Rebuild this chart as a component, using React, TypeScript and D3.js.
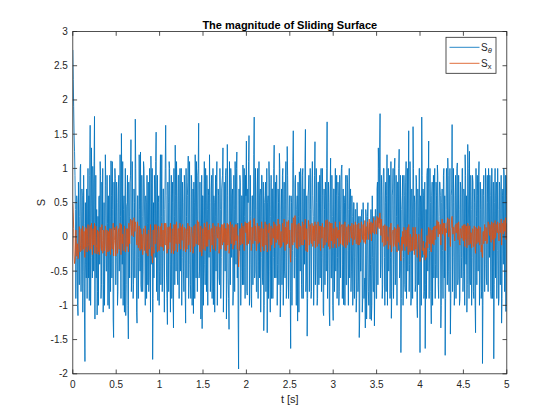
import React from 'react';
import * as d3 from 'd3';

const dt = 0.005;

// S_theta read at t = k*0.01
const sThetaEven = [
  2.73, 1.9, 1.25, 0.4, -0.3, 0.5, -1.15, -0.2, 0.3, 1.06,
  -0.1, 0.6, -0.5, 0.2, -1.82, -0.4, 0.7, 0.1, -0.6, -0.93,
  1.63, -0.3, 0.45, 1.03, -0.5, 1.76, 0.2, -0.6, -1.14, 0.3,
  0.58, -0.4, 0.9, -0.7, 0.1, -1.1, 0.5, -0.2, 0.75, -0.5,
  0.2, 0.6, -1.05, 0.3, 1.11, -0.6, 0.4, -1.47, 0.1, 0.85,
  -0.3, 0.5, -0.8, 0.9, -0.2, 0.3, 1.51, -0.4, -1.0, 0.6,
  0.2, -1.15, 0.45, 0.9, -1.49, 0.3, 0.8, 1.42, -0.5, 0.2,
  -0.7, 0.5, 1.72, 0.1, -1.26, 0.6, -0.3, 0.4, 1.24, -0.8,
  0.3, -0.5, 1.0, -0.2, 0.6, -0.9, 0.2, 0.8, -0.6, 0.1,
  1.18, -0.4, -1.79, 0.5, 0.9, -0.3, 1.53, 0.2, -0.93, 0.6,
  -0.5, 1.2, 0.3, -0.8, 0.7, -0.2, 0.4, 1.63, -0.6, -1.28,
  0.5, 1.1, -0.4, 0.2, -0.9, 0.8, -1.33, 0.3, 1.34, -0.5,
  0.6, -0.7, 0.9, 0.1, -0.5, 1.0, -0.3, 0.5, -0.8, 0.7,
  -1.26, 0.3, 0.6, 1.18, -0.4, 0.2, -0.9, 0.8, -0.2, -1.12,
  0.5, 1.2, -0.6, 0.3, 0.9, 1.66, -0.5, 0.1, -0.7, -1.34,
  0.6, 0.2, -0.4, 1.0, -0.8, 0.4, 0.7, -0.3, 0.5, -0.6,
  0.9, 0.1, -0.99, 0.5, 0.3, -0.5, 1.1, -0.2, 0.6, -0.7,
  0.4, -0.3, 0.8, 1.3, -0.5, 0.2, 0.9, -1.2, 1.35, -0.6,
  -1.35, 0.5, 1.0, -0.3, 0.7, -0.8, 0.4, 1.1, -0.4, 1.24,
  0.2, -1.93, -0.2, 0.8, -0.5, 0.6, 1.05, -0.7, 0.3, 0.9,
  1.40, -0.85, 0.5, 1.48, -0.4, 0.3, -1.03, 0.6, 0.2, 1.75,
  -0.5, 0.4, -0.8, 1.0, 0.1, -0.6, 0.7, -0.3, 0.9, -0.7,
  -1.37, 0.5, 0.8, -0.2, -1.40, 0.6, 1.1, -0.5, 0.3, -0.9,
  0.7, -0.3, 1.34, 0.2, -0.6, 0.9, -0.4, 0.5, 1.22, -1.17,
  0.4, -0.7, 1.0, 0.2, -0.5, 0.8, -0.9, 1.32, 0.3, -0.4,
  0.6, -1.63, 0.5, -0.2, 1.55, -0.6, 0.8, -0.3, 0.4, -1.23,
  0.3, 0.95, -0.5, 0.7, -0.9, 1.0, 0.2, -0.4, 1.57, -0.6,
  -1.45, 0.6, 0.9, -0.2, 0.4, -0.8, 1.1, 0.3, -0.5, 1.39,
  -0.4, 0.5, -0.9, 0.8, 0.1, -0.6, 1.0, -0.3, 0.6, -1.15,
  0.4, 0.8, -0.5, 1.68, -0.2, 0.5, -1.30, 1.15, -0.6, 0.3,
  -1.22, 0.7, 0.2, -0.5, 0.9, -0.3, 0.6, -0.8, 0.4, 0.8,
  1.05, -0.4, -0.99, 0.5, 0.2, -0.7, 0.9, -0.2, 0.4, -0.6,
  0.7, -0.5, 0.3, -0.8, 0.5, -0.3, 0.4, -0.9, 0.2, -0.6,
  -1.47, 0.3, -0.5, 0.4, -0.9, 0.1, -0.7, -1.33, 0.3, -0.6,
  0.5, -1.0, 0.2, -0.4, -1.22, 0.6, -0.8, 0.3, -0.5, 0.4,
  -0.9, 0.8, 1.3, 0.2, 1.80, -0.4, 0.6, -0.7, 1.0, -0.3,
  0.5, -0.8, 1.2, 0.1, -0.5, 0.9, -0.3, -1.19, 0.6, 1.0,
  -0.4, 1.15, -0.6, 0.3, 0.8, -0.2, 1.28, -0.5, -1.69, 0.4,
  0.9, -0.3, 0.6, -0.8, 1.1, 0.2, -0.5, 1.55, -0.4, 0.7,
  -0.9, 0.4, 1.61, -0.2, 0.5, -0.7, 0.8, -1.18, 0.3, 1.0,
  -1.69, 0.5, 1.75, -0.3, 0.6, -0.8, -1.63, 0.4, 0.9, -0.5,
  1.40, -0.2, 0.5, -1.27, 0.8, 0.1, -0.6, 1.0, -0.4, 0.6,
  1.05, -0.7, 0.3, 0.8, -1.33, 0.5, -0.2, 0.9, -0.6, -1.73,
  0.4, 0.8, 1.15, -0.5, 0.2, -1.42, 0.6, 1.64, -0.3, 0.5,
  -0.8, 0.9, 0.2, 1.08, -0.6, 0.4, -0.9, 0.7, -0.3, 1.0,
  -0.5, 0.6, 1.2, -0.4, -1.1, 1.35, 0.2, 1.25, -0.7, 0.4,
  -0.3, 0.8, -0.9, 0.5, -1.40, 0.3, 0.9, -0.5, 1.1, -0.6,
  0.4, -0.8, -1.85, 0.6, 0.2, -0.4, 0.8, -0.7, 0.5, 1.0,
  -0.3, 0.6, -0.9, 1.0, 0.2, -1.78, 0.5, -0.6, 0.8, -0.2,
  0.4, -0.9, 0.7, 0.1, -1.26, 0.6, -0.4, 0.9, 0.3, -1.09,
  0.9,
];

// S_theta read at t = k*0.01 + 0.005
const sThetaOdd = [
  2.3, 1.5, 0.9, -0.9, 0.6, -1.0, 0.8, -0.7, 1.0, -0.8,
  0.7, -1.1, 0.9, -1.2, 0.5, -0.6, -0.9, 1.0, 0.6, 0.9,
  -1.0, 1.3, -0.6, 0.8, 1.1, -1.2, 0.9, 0.4, -0.8, -1.0,
  0.6, 1.1, -0.9, 0.8, 1.0, -0.7, -1.0, 1.2, -0.5, 0.9,
  -1.0, -0.6, 0.9, -0.8, 0.6, 1.1, -1.2, 0.8, 1.0, -0.7,
  0.8, -1.0, 0.7, -0.5, 1.2, -0.9, 0.6, 1.1, 0.4, -1.1,
  1.0, -0.7, 0.5, -1.0, 0.8, -0.6, 0.9, -0.8, 1.1, -0.9,
  0.7, -0.6, 1.0, -1.1, 0.6, -0.9, 1.2, -0.5, -0.7, 0.9,
  -0.8, 1.1, 0.6, -1.0, 0.5, 0.9, -0.7, -0.8, 1.0, -1.1,
  0.8, 1.0, -0.9, -0.6, 0.7, 1.1, -0.8, 0.9, 0.5, -1.0,
  0.8, -0.7, 1.2, -0.6, 0.7, -1.1, 1.0, 0.6, -0.9, 0.8,
  -0.8, 1.0, -1.1, 0.9, 0.5, -0.9, 1.0, -0.7, 0.6, 1.1,
  -0.6, 0.9, -0.9, 1.0, 0.7, -1.0, 0.8, -0.5, 0.9, -0.8,
  1.0, -0.6, 0.8, -0.9, 1.1, -0.7, 0.9, -1.0, 0.7, 0.8,
  -0.9, 0.7, 1.1, -0.8, 1.0, -0.6, 0.8, -1.2, 0.9, 0.6,
  -1.0, 1.1, -0.7, 0.5, 0.9, -1.0, 0.6, 1.2, -0.8, 0.7,
  -0.9, 1.0, 0.6, -1.1, 0.9, 0.8, -1.0, 0.7, -0.6, 1.0,
  -0.9, 0.7, 0.9, -1.1, 0.8, -0.5, 1.0, -0.7, 0.6, -0.9,
  1.1, -0.7, 0.8, 0.6, -1.0, 0.9, -0.8, 0.7, 1.0, -0.6,
  -1.2, 0.7, 0.9, -1.0, 0.6, -0.7, 0.8, 1.0, -0.9, 0.6,
  -0.8, 0.7, 1.1, -1.0, 0.9, -0.9, 0.6, -0.7, 1.2, -0.6,
  1.0, -0.8, 0.7, -0.9, 1.1, 0.6, -1.1, 0.9, -0.6, 0.8,
  -1.0, 0.6, -0.8, 1.0, 0.5, -0.9, 0.8, -1.1, 0.9, 0.7,
  -0.9, 1.0, -0.6, 0.8, 0.9, -1.0, 0.7, -0.7, 1.0, -0.8,
  0.7, 0.9, -1.0, 0.8, -0.6, 1.1, -0.7, 0.9, -0.9, 0.6,
  -0.8, 0.6, -1.0, 1.1, 0.7, -0.6, 0.9, -1.0, 0.6, 0.8,
  -1.1, 0.8, 1.0, -0.7, 0.9, -0.9, 0.7, 1.1, -0.8, 0.6,
  -0.9, 0.7, -0.8, 1.0, -0.9, 0.8, 0.6, -1.0, 0.9, -0.7,
  1.0, -1.0, 0.8, -0.7, 0.9, 0.7, -0.8, 1.0, -1.1, 0.7,
  -0.7, 0.6, 1.0, -0.9, 0.8, -1.1, 0.7, -0.6, 0.9, -1.0,
  0.7, -0.8, 1.0, 0.6, -0.9, 0.8, -1.0, 0.9, -0.6, 1.0,
  -0.9, 0.7, 0.6, -1.0, 0.9, -0.7, 0.8, -1.0, 1.0, 0.5,
  -0.8, 0.6, -1.0, 0.5, -0.9, 0.4, -1.1, 0.5, -0.8, 0.3,
  -1.2, -0.5, 0.3, -1.1, 0.5, -0.9, -0.6, 0.4, -1.2, 0.3,
  -0.8, -0.6, -1.2, 0.4, -1.0, -0.3, -0.8, -1.3, 0.4, -0.9,
  0.7, -0.7, 1.0, 1.3, -0.6, 0.9, -0.9, 0.8, 1.0, -1.0,
  0.8, 0.6, -1.0, 1.0, 0.7, -0.9, 1.1, -0.8, 0.7, -0.9,
  1.0, -0.7, 0.9, -1.0, 0.8, 1.0, -0.6, 0.9, -0.9, 0.6,
  -1.0, 0.9, -0.7, 0.8, -0.9, 1.0, 0.7, -0.8, 1.1, -1.0,
  0.7, -0.9, 1.0, 0.6, -0.8, 0.9, -1.0, 0.7, -0.7, 1.0,
  0.6, -1.0, 0.9, 0.7, -0.9, 0.8, -0.7, -0.9, 1.0, 0.7,
  -0.9, 1.0, -0.8, 0.6, -1.0, 0.9, 0.7, -0.9, 0.8, -0.6,
  0.9, -0.9, 0.8, 0.6, -1.0, 0.7, -0.9, 1.0, 0.6, -0.9,
  1.0, -0.7, 0.9, -0.8, 1.0, -0.9, 0.7, -0.8, 1.0, -1.0,
  0.6, -0.9, 1.0, -0.7, 0.9, -1.0, 0.8, -0.6, 1.0, -0.8,
  0.7, -1.0, 0.9, 0.6, -0.7, 1.0, -0.9, -0.6, 0.9, -1.0,
  0.9, -0.8, 0.7, -1.0, 1.0, -0.7, 0.6, 0.9, -1.0, 0.8,
  -0.9, 0.7, -1.0, 0.9, -0.8, 1.0, -0.6, 0.9, -0.8, 0.7,
  0.9, -0.8, 1.0, -0.9, 0.8, -0.7, 1.0, 0.6, -0.9, 1.0,
  -1.0, 0.8, -0.7, 0.9, -0.9, 0.7, 1.0, -0.8, 0.9, 0.6,
];

// S_x read at t = k*0.01
const sXEven = [
  0.48, 0.12, -0.39, -0.2, -0.05, -0.25, -0.32, -0.1, 0.05, -0.12,
  0.1, -0.05, -0.18, 0.08, -0.3, -0.15, 0.12, 0.02, -0.1, -0.2,
  0.17, 0.0, -0.08, 0.1, -0.12, 0.2, 0.05, -0.15, -0.25, 0.0,
  0.08, -0.12, 0.05, -0.2, -0.05, -0.22, 0.06, -0.1, 0.1, -0.15,
  -0.02, 0.08, -0.2, -0.05, 0.12, -0.15, 0.02, -0.28, -0.05, 0.1,
  -0.08, 0.05, -0.15, 0.12, -0.05, 0.0, 0.18, -0.1, -0.2, 0.05,
  0.0, -0.18, 0.08, 0.12, -0.22, 0.05, 0.15, 0.24, 0.02, 0.12,
  0.0, 0.15, 0.22, 0.08, -0.12, 0.05, -0.1, 0.0, 0.12, -0.18,
  -0.02, -0.15, 0.08, -0.1, 0.02, -0.22, -0.05, 0.1, -0.18, -0.08,
  0.08, -0.15, -0.38, -0.05, 0.1, -0.1, 0.18, 0.0, -0.2, 0.05,
  -0.1, 0.15, 0.02, -0.15, 0.1, -0.05, 0.05, 0.2, -0.1, -0.22,
  0.05, 0.15, -0.08, 0.0, -0.18, 0.1, -0.25, 0.02, 0.18, -0.1,
  0.08, -0.12, 0.12, 0.0, -0.1, 0.15, -0.05, 0.06, -0.15, 0.1,
  -0.22, 0.02, 0.08, 0.16, -0.08, 0.02, -0.15, 0.12, -0.02, -0.2,
  0.06, 0.18, -0.1, 0.04, 0.12, 0.22, -0.08, 0.0, -0.12, -0.24,
  0.08, 0.02, -0.06, 0.14, -0.14, 0.06, 0.1, -0.04, 0.08, -0.1,
  0.12, 0.0, -0.18, 0.06, 0.04, -0.08, 0.15, -0.02, 0.08, -0.12,
  0.05, -0.05, 0.1, 0.18, -0.08, 0.02, 0.12, -0.2, 0.2, -0.1,
  -0.24, 0.06, 0.14, -0.04, 0.1, -0.14, 0.06, 0.16, -0.06, 0.18,
  0.02, -0.44, -0.1, 0.12, -0.08, 0.1, 0.16, -0.1, 0.06, 0.14,
  0.2, -0.12, 0.08, 0.22, -0.05, 0.06, -0.15, 0.1, 0.04, 0.27,
  -0.06, 0.08, -0.1, 0.16, 0.03, -0.08, 0.12, -0.02, 0.15, -0.1,
  -0.2, 0.08, 0.14, 0.0, -0.22, 0.1, 0.18, -0.06, 0.06, -0.12,
  0.12, -0.02, 0.2, 0.05, -0.08, 0.14, -0.04, 0.08, 0.18, -0.16,
  0.08, -0.1, 0.16, 0.04, -0.06, 0.14, -0.12, 0.22, 0.06, -0.04,
  0.1, -0.37, 0.08, 0.0, 0.28, -0.08, 0.31, -0.02, 0.08, -0.18,
  0.06, 0.16, -0.06, 0.12, -0.12, 0.18, 0.04, -0.04, 0.25, -0.08,
  -0.22, 0.1, 0.15, -0.02, 0.06, -0.1, 0.18, 0.04, -0.06, 0.22,
  -0.04, 0.08, -0.12, 0.14, 0.02, -0.08, 0.16, -0.02, 0.1, -0.16,
  0.06, 0.14, -0.06, 0.25, 0.0, 0.08, -0.18, 0.2, -0.06, 0.06,
  -0.16, 0.12, 0.04, -0.06, 0.14, -0.02, 0.1, -0.1, 0.06, 0.14,
  0.18, -0.04, -0.14, 0.08, 0.04, -0.08, 0.15, 0.0, 0.08, -0.06,
  0.12, -0.02, 0.08, -0.06, 0.16, 0.02, 0.1, -0.08, 0.06, -0.02,
  -0.12, 0.12, 0.02, 0.14, -0.04, 0.1, 0.0, -0.1, 0.15, 0.04,
  0.18, -0.04, 0.14, 0.06, -0.06, 0.2, 0.06, 0.16, 0.08, 0.22,
  0.04, 0.24, 0.28, 0.12, 0.35, 0.02, 0.14, -0.06, 0.16, -0.02,
  0.08, -0.1, 0.14, 0.0, -0.08, 0.12, -0.04, -0.22, 0.06, 0.1,
  -0.1, 0.12, -0.14, 0.0, 0.06, -0.08, 0.14, -0.12, -0.35, 0.0,
  0.08, -0.1, 0.02, -0.16, 0.1, -0.04, -0.14, 0.18, -0.1, 0.04,
  -0.2, 0.0, 0.14, -0.12, -0.02, -0.18, 0.04, -0.3, -0.08, 0.02,
  -0.36, -0.1, 0.12, -0.2, -0.06, -0.22, -0.34, -0.08, 0.02, -0.16,
  0.14, -0.1, 0.04, -0.22, 0.1, 0.0, -0.12, 0.16, -0.02, 0.12,
  0.22, 0.0, 0.1, 0.18, -0.12, 0.14, 0.04, 0.2, 0.02, -0.2,
  0.12, 0.2, 0.28, 0.0, 0.1, -0.14, 0.14, 0.3, 0.04, 0.14,
  -0.06, 0.18, 0.06, 0.2, -0.04, 0.1, -0.12, 0.12, -0.02, 0.16,
  -0.06, 0.08, 0.18, -0.04, -0.16, 0.2, 0.02, 0.16, -0.1, 0.06,
  -0.04, 0.1, -0.14, 0.06, -0.24, 0.04, 0.12, -0.08, 0.14, -0.1,
  0.06, -0.12, -0.3, 0.08, 0.02, -0.06, 0.14, -0.1, 0.1, 0.2,
  0.02, 0.14, -0.08, 0.2, 0.08, -0.2, 0.12, -0.02, 0.18, 0.06,
  0.12, -0.06, 0.18, 0.08, -0.12, 0.2, 0.04, 0.24, 0.14, -0.04,
  0.2,
];

// S_x read at t = k*0.01 + 0.005
const sXOdd = [
  0.35, -0.25, -0.35, 0.1, -0.28, -0.1, -0.3, 0.15, -0.22, 0.12,
  -0.2, 0.16, -0.1, -0.28, 0.14, 0.05, -0.22, 0.18, -0.14, 0.1,
  -0.18, 0.2, -0.26, 0.12, -0.06, -0.24, 0.16, -0.12, 0.1, -0.22,
  -0.26, 0.14, -0.16, 0.18, -0.24, 0.1, -0.2, 0.16, -0.28, 0.1,
  -0.22, -0.14, 0.12, -0.26, 0.1, -0.18, 0.2, -0.12, 0.14, -0.28,
  0.16, -0.24, 0.06, -0.18, 0.2, -0.26, 0.12, 0.04, -0.2, 0.16,
  -0.22, 0.12, -0.14, 0.1, 0.2, -0.1, 0.26, 0.12, 0.24, 0.02,
  0.28, 0.08, 0.18, -0.1, 0.22, -0.16, 0.16, -0.2, 0.1, 0.04,
  -0.26, 0.12, -0.2, 0.16, -0.24, 0.04, -0.28, 0.1, -0.14, 0.18,
  -0.28, -0.32, 0.1, -0.24, 0.18, -0.1, 0.12, -0.22, 0.16, -0.2,
  0.14, -0.14, 0.2, -0.1, -0.2, 0.2, -0.12, 0.16, -0.24, 0.14,
  -0.18, 0.14, 0.2, -0.24, 0.12, -0.16, 0.18, -0.2, 0.1, 0.22,
  -0.22, 0.12, -0.1, 0.2, -0.18, 0.08, 0.18, -0.2, 0.14, -0.12,
  0.12, -0.18, 0.2, -0.12, 0.16, -0.22, 0.14, 0.06, -0.24, 0.16,
  -0.14, 0.18, -0.1, 0.24, -0.12, 0.14, -0.22, 0.16, -0.28, 0.12,
  -0.18, 0.2, -0.2, 0.1, 0.22, -0.14, 0.08, 0.18, -0.22, 0.12,
  -0.12, 0.2, -0.14, 0.16, -0.2, 0.12, 0.04, 0.2, -0.24, 0.14,
  -0.18, 0.18, -0.12, 0.06, 0.2, -0.2, 0.12, 0.14, -0.12, 0.18,
  -0.16, 0.22, -0.1, 0.18, -0.18, 0.14, -0.12, 0.18, 0.08, -0.18,
  -0.28, -0.3, 0.12, -0.12, 0.2, -0.1, 0.14, -0.2, 0.22, 0.06,
  -0.12, 0.2, -0.1, 0.18, 0.24, -0.2, 0.14, -0.1, 0.26, 0.18,
  0.16, -0.2, 0.2, -0.1, 0.16, 0.08, -0.22, 0.22, -0.14, 0.12,
  -0.2, 0.22, -0.12, 0.18, -0.18, 0.06, 0.2, -0.2, 0.16, -0.1,
  0.12, 0.22, -0.16, 0.18, -0.08, 0.16, 0.26, -0.12, 0.18, 0.04,
  -0.14, 0.2, -0.08, 0.26, -0.2, 0.12, 0.22, -0.1, 0.24, -0.16,
  -0.24, -0.16, 0.2, -0.12, 0.26, 0.16, 0.2, -0.16, 0.18, -0.12,
  0.2, -0.14, 0.16, -0.1, 0.22, -0.12, 0.18, 0.26, -0.2, 0.12,
  -0.2, 0.24, -0.12, 0.18, -0.08, 0.2, -0.14, 0.16, 0.1, -0.16,
  0.18, -0.14, 0.22, -0.1, 0.16, -0.2, 0.12, 0.2, -0.16, 0.14,
  -0.12, 0.24, -0.08, 0.18, -0.14, 0.22, -0.16, 0.1, 0.2, -0.14,
  0.12, -0.1, 0.22, -0.16, 0.14, 0.06, -0.14, 0.22, -0.1, 0.16,
  -0.12, 0.18, -0.08, 0.22, -0.16, 0.14, -0.12, 0.18, -0.08, 0.16,
  0.06, 0.2, -0.12, 0.18, -0.04, 0.22, -0.1, 0.18, -0.12, 0.2,
  0.08, -0.08, 0.22, 0.04, 0.18, -0.08, 0.24, 0.1, -0.04, 0.22,
  0.1, 0.26, 0.04, 0.22, 0.14, 0.08, 0.28, 0.04, 0.24, 0.14,
  0.3, 0.14, 0.24, 0.34, 0.14, 0.26, -0.08, 0.16, -0.14, 0.18,
  -0.12, 0.16, -0.06, -0.18, 0.14, -0.12, 0.2, -0.2, 0.06, -0.14,
  0.14, -0.1, 0.12, -0.22, 0.18, 0.06, -0.12, -0.26, -0.16, -0.2,
  -0.1, 0.14, -0.2, 0.1, -0.14, 0.14, -0.26, 0.06, -0.22, -0.12,
  -0.14, -0.2, 0.06, -0.26, 0.14, -0.12, -0.28, -0.18, 0.04, -0.24,
  -0.3, 0.06, -0.18, -0.14, -0.26, -0.16, -0.22, -0.3, -0.12, 0.04,
  -0.08, 0.12, -0.2, 0.06, -0.1, 0.14, 0.08, -0.04, 0.16, 0.24,
  0.1, 0.22, 0.04, 0.18, 0.08, 0.26, 0.14, 0.1, 0.2, 0.12,
  0.06, 0.22, 0.1, 0.26, 0.04, 0.12, 0.28, 0.16, 0.14, 0.04,
  0.16, 0.06, 0.2, -0.04, 0.22, -0.1, 0.12, 0.04, 0.16, -0.04,
  0.18, -0.14, 0.12, 0.16, -0.04, 0.16, -0.12, 0.16, 0.06, -0.16,
  0.12, -0.14, 0.16, -0.18, 0.14, -0.1, 0.1, 0.16, -0.12, 0.14,
  -0.22, -0.26, 0.06, -0.1, 0.18, -0.04, 0.12, -0.08, 0.22, 0.12,
  0.18, -0.06, 0.22, -0.04, 0.2, -0.14, 0.24, 0.08, 0.16, 0.22,
  0.04, 0.2, 0.06, 0.26, 0.1, 0.18, 0.24, 0.08, 0.28, 0.14,
];

const xTicks = [0, 0.5, 1, 1.5, 2, 2.5, 3, 3.5, 4, 4.5, 5];
const xTickLabels = ['0', '0.5', '1', '1.5', '2', '2.5', '3', '3.5', '4', '4.5', '5'];
const yTicks = [-2, -1.5, -1, -0.5, 0, 0.5, 1, 1.5, 2, 2.5, 3];
const yTickLabels = ['-2', '-1.5', '-1', '-0.5', '0', '0.5', '1', '1.5', '2', '2.5', '3'];

const titleText = 'The magnitude of Sliding Surface';
const xLabel = 't [s]';
const yLabel = 'S';

const BLUE = '#0072BD';
const ORANGE = '#D95319';
const AX = '#262626';
const FONT = "'Liberation Sans', Arial, Helvetica, sans-serif";

function interleave(even: number[], odd: number[]): number[] {
  return d3.range(even.length + odd.length).map((j) =>
    j % 2 === 0 ? even[j / 2] : odd[(j - 1) / 2]
  );
}

const sTheta = interleave(sThetaEven, sThetaOdd);
const sX = interleave(sXEven, sXOdd);

export default function App() {
  const W = 560;
  const H = 420;
  const L = 72.8, R = 506.8, T = 31.5, B = 373.8;
  const x = d3.scaleLinear().domain([0, 5]).range([L, R]);
  const y = d3.scaleLinear().domain([-2, 3]).range([B, T]);
  const line = d3
    .line<number>()
    .x((_, i) => x(i * dt))
    .y((d) => y(d));
  const tl = 4.3;

  return (
    <svg
      width={W}
      height={H}
      style={{ position: 'absolute', left: 0, top: 0, background: '#fff' }}
      fontFamily={FONT}
    >
      <rect x={0} y={0} width={W} height={H} fill="#fff" />
      <defs>
        <clipPath id="plotclip">
          <rect x={L} y={T} width={R - L} height={B - T} />
        </clipPath>
      </defs>
      <g clipPath="url(#plotclip)">
        <path d={line(sTheta) || ''} fill="none" stroke={BLUE} strokeWidth={0.85} strokeLinejoin="round" />
        <path d={line(sX) || ''} fill="none" stroke={ORANGE} strokeWidth={0.85} strokeLinejoin="round" />
      </g>
      <rect x={L} y={T} width={R - L} height={B - T} fill="none" stroke={AX} strokeWidth={0.8} />
      {xTicks.map((t, i) => (
        <g key={'xt' + i}>
          <line x1={x(t)} x2={x(t)} y1={B} y2={B - tl} stroke={AX} strokeWidth={0.8} />
          <line x1={x(t)} x2={x(t)} y1={T} y2={T + tl} stroke={AX} strokeWidth={0.8} />
          <text x={x(t)} y={388} fontSize={10} textAnchor="middle" fill={AX}>
            {xTickLabels[i]}
          </text>
        </g>
      ))}
      {yTicks.map((t, i) => (
        <g key={'yt' + i}>
          <line x1={L} x2={L + tl} y1={y(t)} y2={y(t)} stroke={AX} strokeWidth={0.8} />
          <line x1={R} x2={R - tl} y1={y(t)} y2={y(t)} stroke={AX} strokeWidth={0.8} />
          <text x={L - 5} y={y(t) + 3.5} fontSize={10} textAnchor="end" fill={AX}>
            {yTickLabels[i]}
          </text>
        </g>
      ))}
      <text x={(L + R) / 2} y={28.5} fontSize={11} fontWeight="bold" textAnchor="middle" fill="#000">
        {titleText}
      </text>
      <text x={(L + R) / 2} y={403} fontSize={11} textAnchor="middle" fill={AX}>
        {xLabel}
      </text>
      <text
        transform={`translate(45,${(T + B) / 2}) rotate(-90)`}
        fontSize={11}
        textAnchor="middle"
        fill={AX}
      >
        {yLabel}
      </text>
      <g>
        <rect x={446} y={37.3} width={50} height={36} fill="#fff" stroke={AX} strokeWidth={0.8} />
        <line x1={449.5} x2={479.5} y1={47.3} y2={47.3} stroke={BLUE} strokeWidth={0.85} />
        <line x1={449.5} x2={479.5} y1={63.3} y2={63.3} stroke={ORANGE} strokeWidth={0.85} />
        <text x={481} y={50.5} fontSize={10} fill={AX}>
          S
          <tspan dy={2.5} fontSize={7.5} fontStyle="italic">θ</tspan>
        </text>
        <text x={481} y={66.5} fontSize={10} fill={AX}>
          S
          <tspan dy={2.5} fontSize={7.5}>x</tspan>
        </text>
      </g>
    </svg>
  );
}
